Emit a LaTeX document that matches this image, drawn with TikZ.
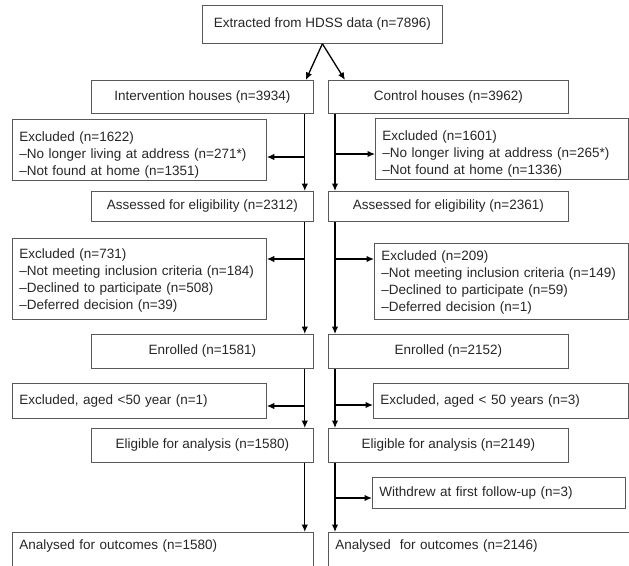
\documentclass[tikz,border=0pt]{standalone}
\usepackage{fontspec}
\setmainfont{Liberation Sans}
\usetikzlibrary{arrows.meta}
\begin{document}
\begin{tikzpicture}[x=1pt,y=-1pt,
  box/.style={draw=black!65, line width=0.8pt, anchor=north west, inner sep=0pt,
    font=\fontsize{13.5}{17}\selectfont, text=black!85},
  lbox/.style={box, align=left, inner xsep=7pt},
  arr/.style={line width=1.3pt, -{Latex[length=7.5pt,width=6.5pt]}}]
\useasboundingbox (0,0) rectangle (629,565);
% top
\node[box, minimum width=240, minimum height=38] (top) at (202,5) {Extracted from HDSS data (n=7896)};
% arms
\node[box, minimum width=222, minimum height=33] (intv) at (91,80) {Intervention houses (n=3934)};
\node[box, minimum width=240, minimum height=33] (ctrl) at (328,80) {Control houses (n=3962)};
% exclusions 1
\node[lbox, minimum width=254, minimum height=61, text width=240, text height=10pt, text depth=26pt] (exc1L) at (12,119)
  {Excluded (n=1622)\\–No longer living at address (n=271*)\\–Not found at home (n=1351)};
\node[lbox, minimum width=253, minimum height=61, text width=239, text height=10pt, text depth=26pt] (exc1R) at (375,118)
  {Excluded (n=1601)\\–No longer living at address (n=265*)\\–Not found at home (n=1336)};
% assessed
\node[box, minimum width=222, minimum height=30] (assL) at (91,191) {Assessed for eligibility (n=2312)};
\node[box, minimum width=240, minimum height=30] (assR) at (328,191) {Assessed for eligibility (n=2361)};
% exclusions 2
\node[lbox, minimum width=254, minimum height=81, text width=240, text height=10pt, text depth=50pt] (exc2L) at (12,238)
  {Excluded (n=731)\\–Not meeting inclusion criteria (n=184)\\–Declined to participate (n=508)\\–Deferred decision (n=39)};
\node[lbox, minimum width=254, minimum height=76, text width=240, text height=10pt, text depth=52pt] (exc2R) at (374,243)
  {Excluded (n=209)\\–Not meeting inclusion criteria (n=149)\\–Declined to participate (n=59)\\–Deferred decision (n=1)};
% enrolled
\node[box, minimum width=222, minimum height=34] (enrL) at (91,334) {Enrolled (n=1581)};
\node[box, minimum width=240, minimum height=34] (enrR) at (328,334) {Enrolled (n=2152)};
% exclusions 3
\node[lbox, minimum width=254, minimum height=35, text width=240] (exc3L) at (12,383)
  {Excluded, aged <50 year (n=1)};
\node[lbox, minimum width=255, minimum height=35, text width=241] (exc3R) at (373,383)
  {Excluded, aged < 50 years (n=3)};
% eligible
\node[box, minimum width=222, minimum height=34] (eligL) at (91,428) {Eligible for analysis (n=1580)};
\node[box, minimum width=240, minimum height=34] (eligR) at (328,428) {Eligible for analysis (n=2149)};
% withdrew
\node[lbox, minimum width=253, minimum height=31, text width=239] (withR) at (372,477)
  {Withdrew at first follow-up (n=3)};
% analysed
\node[lbox, minimum width=301, minimum height=40, text width=287, text height=9pt, text depth=15pt] (anaL) at (12,532)
  {Analysed for outcomes (n=1580)};
\node[lbox, minimum width=312, minimum height=40, text width=298, text height=9pt, text depth=15pt] (anaR) at (328,532)
  {Analysed\ \ for outcomes (n=2146)};
% top split
\draw[arr] (top.south) -- ([xshift=-8pt]intv.north east);
\draw[arr] (top.south) -- ([xshift=17pt]ctrl.north west);
% left trunk
\draw[arr] ([xshift=-9pt]intv.south east) -- ([xshift=-9pt]assL.north east);
\draw[arr] ([xshift=-9pt]assL.south east) -- ([xshift=-9pt]enrL.north east);
\draw[arr] ([xshift=-9pt]enrL.south east) -- ([xshift=-9pt]eligL.north east);
\draw[arr] ([xshift=-9pt]eligL.south east) -- ([xshift=-9pt]anaL.north east);
% right trunk
\draw[arr] ([xshift=7pt]ctrl.south west) -- ([xshift=7pt]assR.north west);
\draw[arr] ([xshift=7pt]assR.south west) -- ([xshift=7pt]enrR.north west);
\draw[arr] ([xshift=7pt]enrR.south west) -- ([xshift=7pt]eligR.north west);
\draw[arr] ([xshift=7pt]eligR.south west) -- ([xshift=7pt]anaR.north west);
% branch points
\coordinate (b1L) at (304,157);
\coordinate (b1R) at (335,154);
\coordinate (b2L) at (304,259);
\coordinate (b2R) at (335,259);
\coordinate (b3L) at (304,406);
\coordinate (b3R) at (335,405);
\coordinate (bw) at (335,498);
\draw[arr] (b1L) -- (b1L -| exc1L.east);
\draw[arr] (b1R) -- (b1R -| exc1R.west);
\draw[arr] (b2L) -- (b2L -| exc2L.east);
\draw[arr] (b2R) -- (b2R -| exc2R.west);
\draw[arr] (b3L) -- (b3L -| exc3L.east);
\draw[arr] (b3R) -- (b3R -| exc3R.west);
\draw[arr] (bw) -- (bw -| withR.west);
\end{tikzpicture}
\end{document}
